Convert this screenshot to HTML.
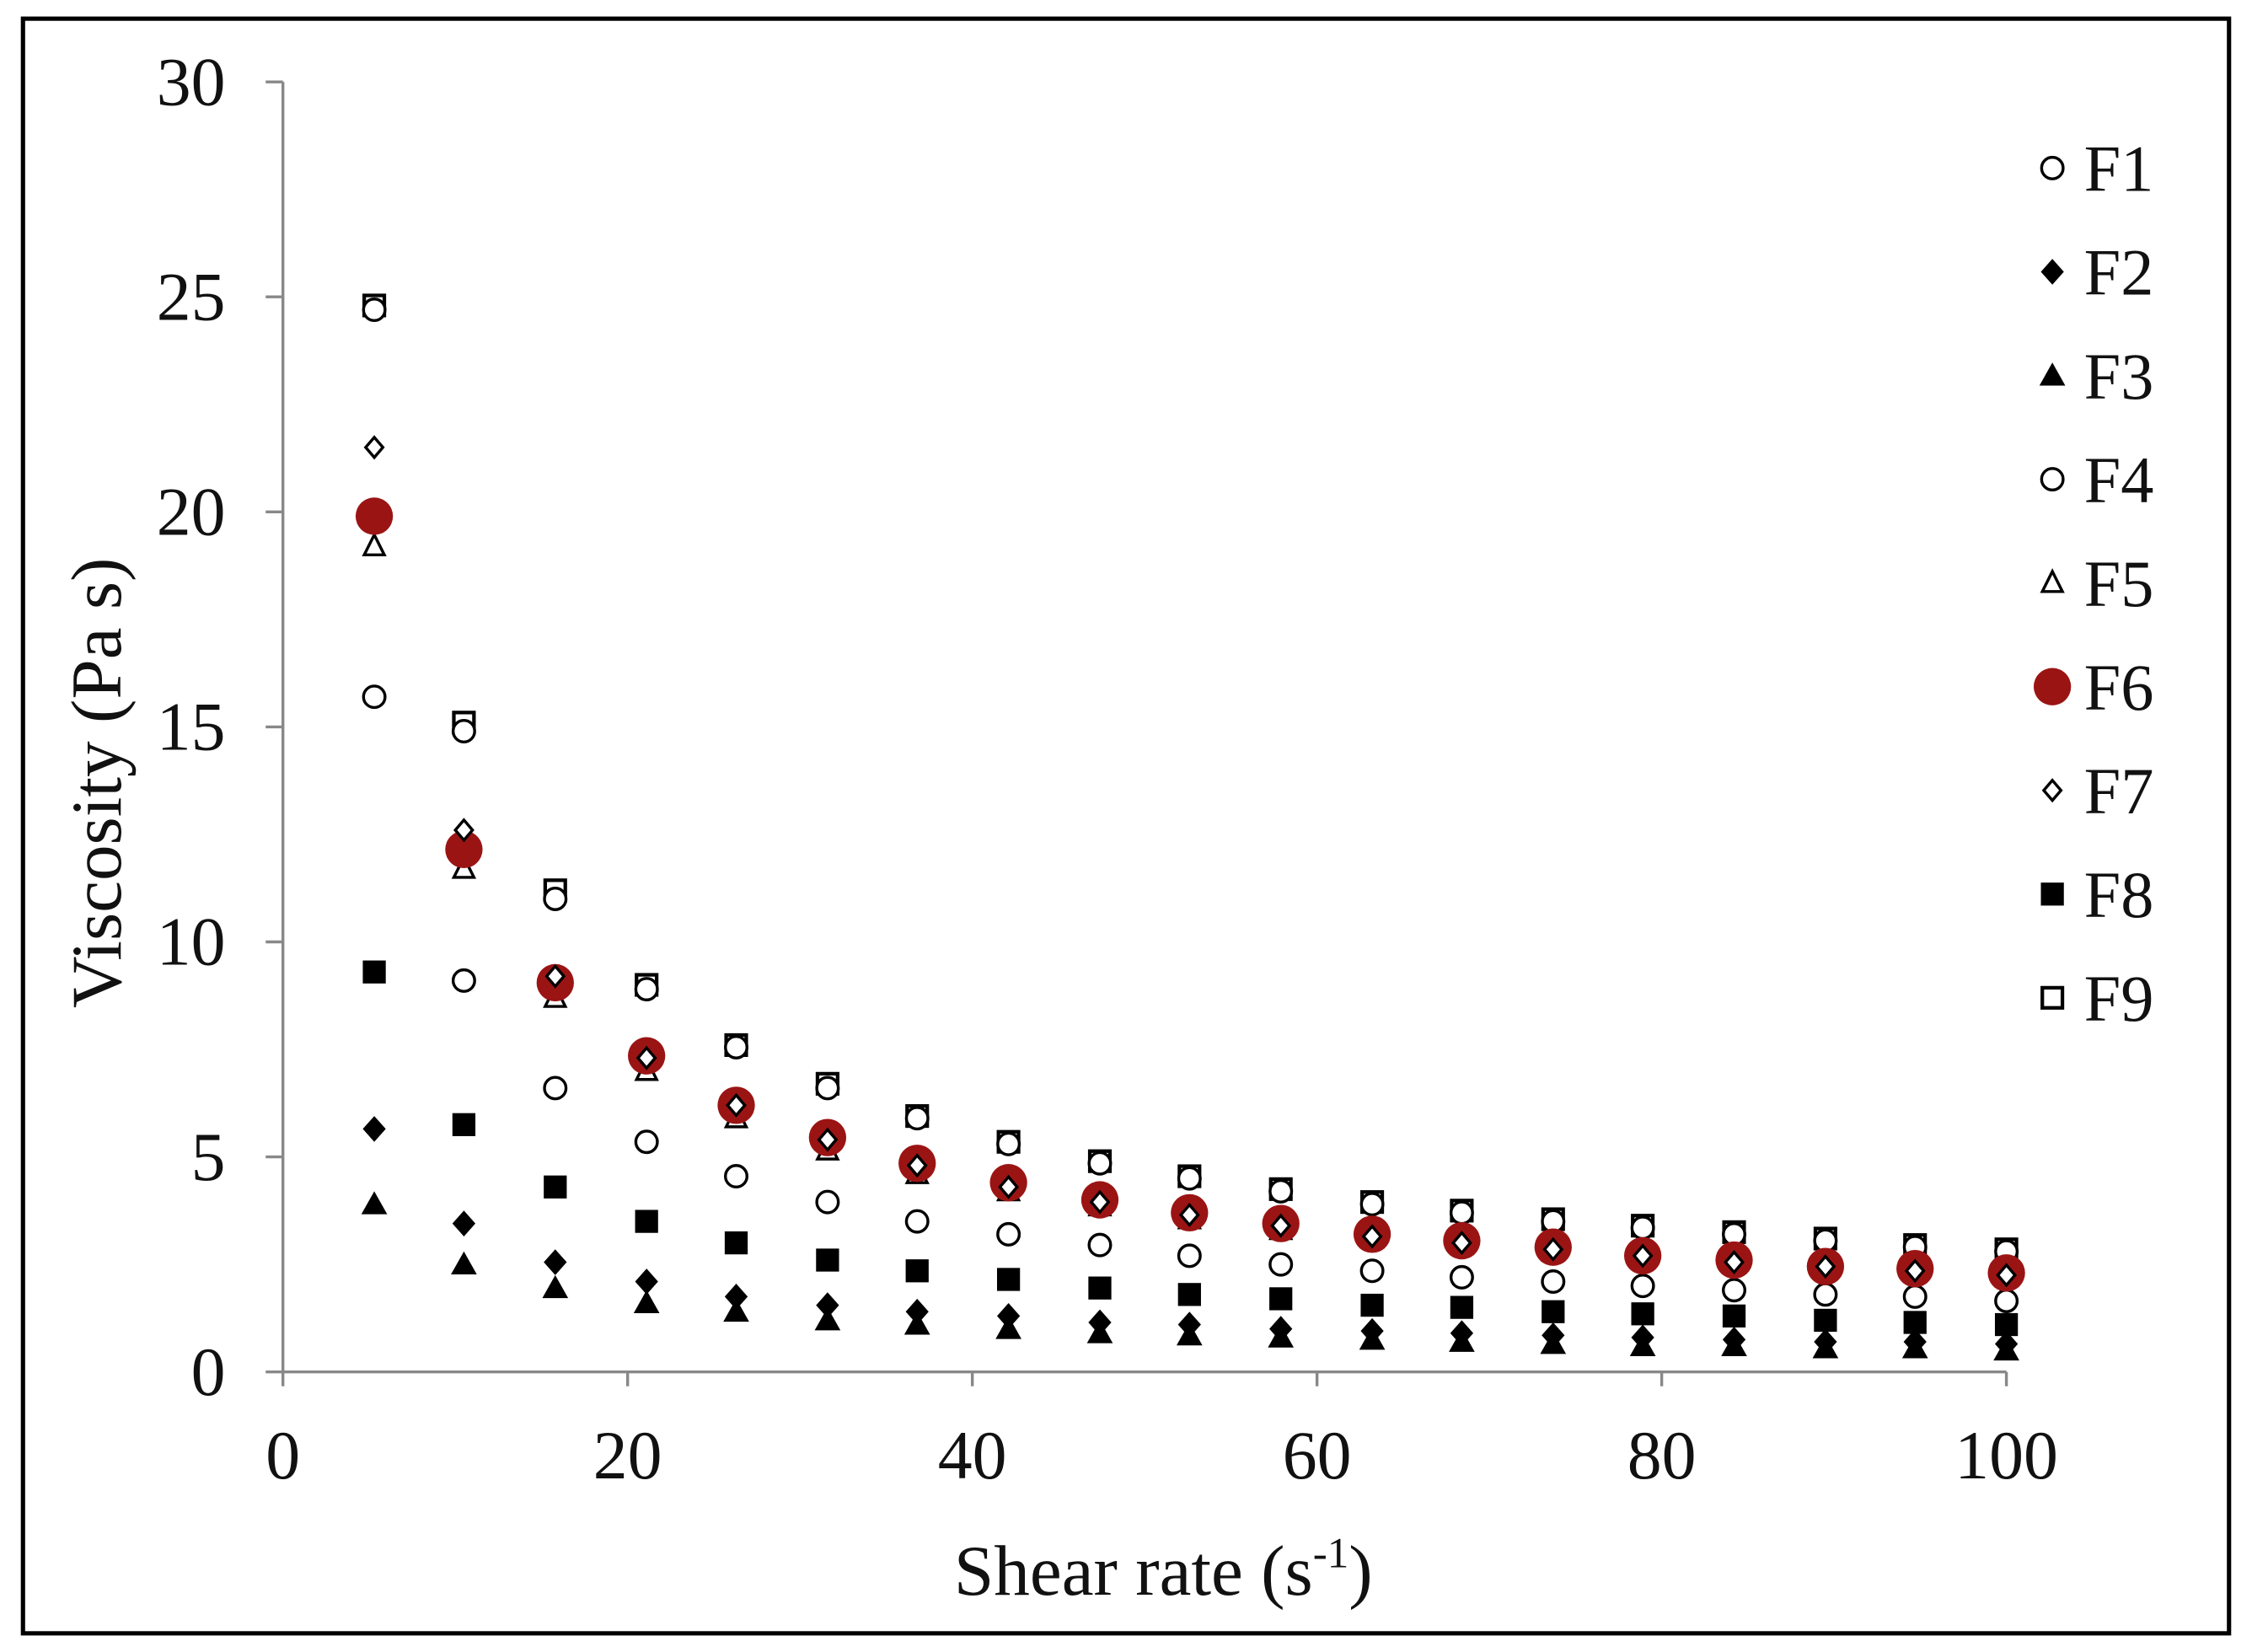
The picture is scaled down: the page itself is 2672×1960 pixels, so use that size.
<!DOCTYPE html>
<html><head><meta charset="utf-8">
<style>
html,body{margin:0;padding:0;background:#fff;}
svg{display:block;}
text{font-family:"Liberation Serif",serif;fill:#111;}
</style></head>
<body>
<svg id="chart" width="2672" height="1960" viewBox="0 0 1568 1150" preserveAspectRatio="none" xmlns="http://www.w3.org/2000/svg">
<rect x="16" y="13" width="1536" height="1124" fill="#fff" stroke="#000" stroke-width="3"/>
<g id="axes"></g>
<g id="marks"></g>
<g id="legend"></g>
<text x="0" y="0" font-size="50" text-anchor="middle" transform="translate(84,545) rotate(-90)">Viscosity (Pa s)</text>
<text x="810" y="1110" font-size="50" text-anchor="middle">Shear rate (s<tspan font-size="30" dy="-19">-1</tspan><tspan dy="19">)</tspan></text>
</svg>
<script>
const xVals=[5.3,10.5,15.8,21.1,26.3,31.6,36.8,42.1,47.4,52.6,57.9,63.2,68.4,73.7,78.9,84.2,89.5,94.7,100];
const F1=[24.7,14.9,11.0,8.9,7.55,6.6,5.9,5.3,4.85,4.5,4.2,3.9,3.7,3.5,3.35,3.2,3.05,2.9,2.8];
const F2=[5.65,3.45,2.55,2.1,1.75,1.55,1.4,1.3,1.15,1.1,1.0,0.95,0.9,0.85,0.8,0.75,0.7,0.7,0.65];
const F3=[3.9,2.5,1.95,1.6,1.4,1.2,1.1,1.0,0.9,0.85,0.8,0.75,0.7,0.65,0.6,0.6,0.55,0.55,0.5];
const F4=[15.7,9.1,6.6,5.35,4.55,3.95,3.5,3.2,2.95,2.7,2.5,2.35,2.2,2.1,2.0,1.9,1.8,1.75,1.65];
const F5=[19.2,11.7,8.7,7.0,5.9,5.15,4.6,4.2,3.85,3.55,3.3,3.1,2.95,2.8,2.65,2.5,2.4,2.3,2.2];
const F6=[19.9,12.15,9.05,7.35,6.2,5.45,4.85,4.4,4.0,3.7,3.45,3.2,3.05,2.9,2.7,2.6,2.45,2.4,2.3];
const F7=[21.5,12.6,9.2,7.3,6.2,5.4,4.8,4.3,3.95,3.65,3.4,3.15,3.0,2.85,2.7,2.55,2.45,2.35,2.25];
const F8=[9.3,5.75,4.3,3.5,3.0,2.6,2.35,2.15,1.95,1.8,1.7,1.55,1.5,1.4,1.35,1.3,1.2,1.15,1.1];
const F9=[24.8,15.1,11.2,9.0,7.6,6.7,5.95,5.35,4.9,4.55,4.25,3.95,3.75,3.55,3.4,3.25,3.1,2.95,2.85];
const xTicks=[0,20,40,60,80,100];
const yTicks=[0,5,10,15,20,25,30];
const seriesNames=["F1","F2","F3","F4","F5","F6","F7","F8","F9"];

const NS="http://www.w3.org/2000/svg";
const X0=197,X1=1397,Y0=955,Y1=57;
function sx(v){return X0+(v-0)/(100-0)*(X1-X0);}
function sy(v){return Y0-(v-0)/(30-0)*(Y0-Y1);}
function mk(tag,attrs,parent){const e=document.createElementNS(NS,tag);for(const k in attrs)e.setAttribute(k,attrs[k]);parent.appendChild(e);return e;}
const axes=document.getElementById('axes');
let l=mk('line',{x1:X0,y1:Y0,x2:X1,y2:Y0,stroke:'#888','stroke-width':2},axes);


l=mk('line',{x1:X0,y1:Y0,x2:X0,y2:Y1,stroke:'#888','stroke-width':2},axes);


xTicks.forEach(t=>{
 const tk=mk('line',{x1:sx(t),y1:Y0,x2:sx(t),y2:Y0+10,stroke:'#888','stroke-width':2},axes);
 
 
 const tx=mk('text',{x:sx(t),y:Y0+74,'font-size':48,'text-anchor':'middle'},axes);
 tx.textContent=t;
 
 
});
yTicks.forEach(t=>{
 const tk=mk('line',{x1:X0-12,y1:sy(t),x2:X0,y2:sy(t),stroke:'#888','stroke-width':2},axes);
 
 
 const tx=mk('text',{x:X0-40,y:sy(t)+16,'font-size':48,'text-anchor':'end'},axes);
 tx.textContent=t;
 
 
});
function marker(type,cx,cy,parent){
 switch(type){
  case 'ocircle': return mk('circle',{cx:cx,cy:cy,r:7.5,fill:'#fff',stroke:'#000','stroke-width':2},parent);
  case 'rcircle': return mk('circle',{cx:cx,cy:cy,r:13,fill:'#9b1414',stroke:'none'},parent);
  case 'fdiamond': return mk('polygon',{points:`${cx},${cy-9} ${cx+8},${cy} ${cx},${cy+9} ${cx-8},${cy}`,fill:'#000'},parent);
  case 'odiamond': return mk('polygon',{points:`${cx},${cy-7} ${cx+6},${cy} ${cx},${cy+7} ${cx-6},${cy}`,fill:'#fff',stroke:'#000','stroke-width':2},parent);
  case 'ftri': return mk('polygon',{points:`${cx},${cy-9} ${cx+9},${cy+7} ${cx-9},${cy+7}`,fill:'#000'},parent);
  case 'otri': return mk('polygon',{points:`${cx},${cy-8} ${cx+7},${cy+6} ${cx-7},${cy+6}`,fill:'#fff',stroke:'#000','stroke-width':2},parent);
  case 'fsquare': return mk('rect',{x:cx-8,y:cy-8,width:16,height:16,fill:'#000'},parent);
  case 'osquare': return mk('rect',{x:cx-7,y:cy-7,width:14,height:14,fill:'#fff',stroke:'#000','stroke-width':2.5},parent);
 }
}
const data={F1:F1,F2:F2,F3:F3,F4:F4,F5:F5,F6:F6,F7:F7,F8:F8,F9:F9};
const types={F1:'ocircle',F2:'fdiamond',F3:'ftri',F4:'ocircle',F5:'otri',F6:'rcircle',F7:'odiamond',F8:'fsquare',F9:'osquare'};
const drawOrder=["F9","F1","F4","F5","F6","F7","F8","F2","F3"];
const marks=document.getElementById('marks');
drawOrder.forEach(n=>{
 const g=mk('g',{},marks);
 
 
 data[n].forEach((v,i)=>{
  const m=marker(types[n],sx(xVals[i]),sy(v),g);
  
  
 });
});
const legend=document.getElementById('legend');
seriesNames.forEach((n,i)=>{
 const y=117+i*72.2;
 const g=mk('g',{},legend);
 
 
 marker(types[n],1429,y,g);
 const t=mk('text',{x:1451,y:y+16,'font-size':46},g);
 t.textContent=n;
});
</script>
</body></html>
